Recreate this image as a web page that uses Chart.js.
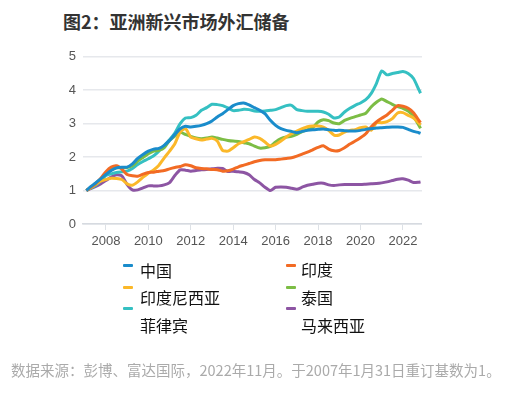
<!DOCTYPE html>
<html>
<head>
<meta charset="utf-8">
<script src="https://cdn.jsdelivr.net/npm/chart.js@4/dist/chart.umd.min.js"></script>
<style>
  body { margin: 0; background: #fff; width: 517px; height: 394px; position: relative; overflow: hidden; }
  #title { position: absolute; left: 63px; top: 8px; font: 700 18px "Noto Sans CJK SC", sans-serif; color: #333; white-space: nowrap; }
  #wrap { position: absolute; left: 50px; top: 42px; width: 372px; height: 212px; }
  #legend { position: absolute; left: 0; top: 0; width: 517px; height: 394px; pointer-events: none; }
  .mk { position: absolute; width: 10px; height: 3px; border-radius: 1px; }
  .lb { position: absolute; font: 16px "Noto Sans CJK SC", sans-serif; color: #111; line-height: 16px; white-space: nowrap; }
  #note { position: absolute; left: 11px; top: 361px; font: 14.5px "Noto Sans CJK SC", sans-serif; color: #aaa; white-space: nowrap; line-height: 18px; }
</style>
</head>
<body>
<div id="title">图2：亚洲新兴市场外汇储备</div>
<div id="wrap"><canvas id="chart"></canvas></div>
<div id="legend"></div>
<div id="note">数据来源：彭博、富达国际，2022年11月。于2007年1月31日重订基数为1。</div>
<script>
// ------------ Dados ------------

// anos (fração do ano), base 31/01/2007 = 1
const anos = [
  2007.08, 2007.25, 2007.5, 2007.75, 2008.0, 2008.25, 2008.5, 2008.75,
  2009.0, 2009.25, 2009.5, 2009.75, 2010.0, 2010.25, 2010.5, 2010.75,
  2011.0, 2011.25, 2011.5, 2011.75, 2012.0, 2012.25, 2012.5, 2012.75,
  2013.0, 2013.25, 2013.5, 2013.75, 2014.0, 2014.25, 2014.5, 2014.75,
  2015.0, 2015.25, 2015.5, 2015.75, 2016.0, 2016.25, 2016.5, 2016.75,
  2017.0, 2017.25, 2017.5, 2017.75, 2018.0, 2018.25, 2018.5, 2018.75,
  2019.0, 2019.25, 2019.5, 2019.75, 2020.0, 2020.25, 2020.5, 2020.75,
  2021.0, 2021.25, 2021.5, 2021.75, 2022.0, 2022.25, 2022.5, 2022.75, 2022.83
];

const china = [
  1.00, 1.10, 1.22, 1.35, 1.48, 1.60, 1.68, 1.70,
  1.70, 1.80, 1.96, 2.08, 2.18, 2.24, 2.26, 2.35,
  2.50, 2.68, 2.85, 2.92, 2.90, 2.92, 2.95, 3.00,
  3.08, 3.20, 3.30, 3.42, 3.54, 3.60, 3.62, 3.56,
  3.48, 3.40, 3.30, 3.10, 2.95, 2.85, 2.80, 2.77,
  2.73, 2.77, 2.80, 2.82, 2.83, 2.84, 2.82, 2.80,
  2.80, 2.79, 2.78, 2.78, 2.80, 2.83, 2.85, 2.87,
  2.88, 2.89, 2.90, 2.90, 2.89, 2.83, 2.77, 2.73, 2.71
];

const india = [
  1.00, 1.08, 1.20, 1.36, 1.56, 1.70, 1.74, 1.64,
  1.48, 1.44, 1.43, 1.49, 1.54, 1.55, 1.58, 1.60,
  1.65, 1.69, 1.72, 1.77, 1.74, 1.68, 1.66, 1.65,
  1.63, 1.62, 1.58, 1.59, 1.64, 1.71, 1.76, 1.81,
  1.86, 1.90, 1.92, 1.92, 1.92, 1.94, 1.96, 1.98,
  2.03, 2.09, 2.15, 2.22, 2.29, 2.34, 2.24, 2.19,
  2.20, 2.28, 2.39, 2.48, 2.58, 2.70, 2.90, 3.05,
  3.16, 3.26, 3.40, 3.54, 3.52, 3.46, 3.33, 3.10, 3.03
];

const indonesia = [
  1.00, 1.08, 1.18, 1.28, 1.33, 1.37, 1.36, 1.33,
  1.20, 1.16, 1.26, 1.40, 1.52, 1.62, 1.76, 1.98,
  2.18, 2.40, 2.75, 2.85, 2.60, 2.55, 2.51, 2.54,
  2.56, 2.48, 2.20, 2.18, 2.28, 2.40, 2.46, 2.53,
  2.60, 2.56, 2.45, 2.33, 2.38, 2.48, 2.60, 2.70,
  2.78, 2.85, 2.91, 2.93, 2.93, 2.90, 2.80, 2.66,
  2.66, 2.75, 2.80, 2.82, 2.88, 2.90, 2.80, 3.03,
  3.03, 3.06, 3.15, 3.32, 3.33, 3.25, 3.17, 3.02, 2.96
];

const tailandia = [
  1.00, 1.07, 1.18, 1.32, 1.50, 1.63, 1.68, 1.68,
  1.69, 1.74, 1.88, 1.99, 2.10, 2.18, 2.20, 2.28,
  2.50, 2.63, 2.74, 2.68, 2.62, 2.57, 2.55, 2.57,
  2.60, 2.57, 2.53, 2.50, 2.48, 2.47, 2.43, 2.40,
  2.33, 2.27, 2.28, 2.32, 2.45, 2.55, 2.60, 2.62,
  2.68, 2.76, 2.82, 2.88, 3.05, 3.12, 3.09, 3.02,
  3.00, 3.10, 3.16, 3.21, 3.26, 3.31, 3.50, 3.64,
  3.74, 3.66, 3.58, 3.51, 3.46, 3.38, 3.22, 2.95, 2.86
];

const filipinas = [
  1.00, 1.06, 1.15, 1.28, 1.45, 1.50, 1.54, 1.56,
  1.58, 1.66, 1.78, 1.87, 1.95, 2.04, 2.18, 2.35,
  2.52, 2.72, 3.00, 3.17, 3.18, 3.25, 3.40, 3.48,
  3.58, 3.57, 3.54, 3.47, 3.39, 3.40, 3.43, 3.42,
  3.38, 3.37, 3.38, 3.40, 3.42, 3.48, 3.54, 3.55,
  3.42, 3.39, 3.37, 3.37, 3.37, 3.35, 3.28, 3.17,
  3.20, 3.35, 3.46, 3.55, 3.62, 3.72, 3.90, 4.20,
  4.58, 4.46, 4.50, 4.53, 4.56, 4.50, 4.35, 4.02, 3.91
];

const malasia = [
  1.00, 1.05, 1.12, 1.20, 1.30, 1.40, 1.47, 1.44,
  1.18, 1.02, 1.02, 1.08, 1.14, 1.14, 1.14, 1.17,
  1.24, 1.45, 1.62, 1.61, 1.58, 1.60, 1.62, 1.63,
  1.65, 1.67, 1.66, 1.57, 1.58, 1.56, 1.54, 1.47,
  1.33, 1.23, 1.10, 1.00, 1.10, 1.11, 1.10, 1.07,
  1.04, 1.10, 1.16, 1.19, 1.22, 1.22, 1.17, 1.15,
  1.17, 1.18, 1.18, 1.18, 1.18, 1.19, 1.20, 1.21,
  1.23, 1.26, 1.30, 1.34, 1.35, 1.31, 1.24, 1.25, 1.26
];

const nomes = ["中国", "印度", "印度尼西亚", "泰国", "菲律宾", "马来西亚"];
const cores = ["#1a8ccb", "#f26b24", "#fbb829", "#7cbd45", "#35c0c2", "#8d55a3"];
const series = [china, india, indonesia, tailandia, filipinas, malasia];
const xTicks = [2008, 2010, 2012, 2014, 2016, 2018, 2020, 2022];
const yTicks = [0, 1, 2, 3, 4, 5];

// ------------ Legenda (HTML) ------------

const legPos = [
  { mx: 123, my: 264, tx: 140, ty: 262 },
  { mx: 286, my: 264, tx: 301, ty: 261 },
  { mx: 123, my: 286, tx: 140, ty: 289 },
  { mx: 286, my: 286, tx: 301, ty: 289 },
  { mx: 123, my: 307, tx: 140, ty: 317 },
  { mx: 286, my: 307, tx: 301, ty: 317 }
];
const leg = document.getElementById("legend");
nomes.forEach((n, i) => {
  const p = legPos[i];
  const mk = document.createElement("div");
  mk.className = "mk";
  mk.style.left = p.mx + "px"; mk.style.top = p.my + "px"; mk.style.background = cores[i];
  const lb = document.createElement("div");
  lb.className = "lb";
  lb.style.left = p.tx + "px"; lb.style.top = p.ty + "px";
  lb.textContent = n;
  leg.appendChild(mk); leg.appendChild(lb);
});

// ------------ Gráfico ------------

new Chart(document.getElementById("chart"), {
  type: "line",
  data: {
    datasets: series.map((s, i) => ({
      label: nomes[i],
      data: s.map((v, j) => ({ x: anos[j], y: v })),
      borderColor: cores[i],
      backgroundColor: cores[i],
      borderWidth: 3,
      pointRadius: 0,
      tension: 0.2
    }))
  },
  options: {
    animation: false,
    responsive: true,
    maintainAspectRatio: false,
    layout: { padding: { top: 7, left: 0, right: 0, bottom: 0 } },
    plugins: { legend: { display: false }, tooltip: { enabled: false } },
    scales: {
      x: {
        type: "linear",
        min: 2006.92,
        max: 2022.9,
        afterBuildTicks: a => { a.ticks = xTicks.map(v => ({ value: v })); },
        afterFit: a => { a.height = 30; },
        grid: { drawOnChartArea: false, drawTicks: true, tickLength: 6, color: "#dde1e6" },
        border: { color: "#d6dae0", width: 1.5 },
        ticks: { color: "#555", font: { family: "Liberation Sans", size: 13 }, padding: 4, maxRotation: 0, callback: v => String(v) }
      },
      y: {
        min: 0,
        max: 5,
        afterBuildTicks: a => { a.ticks = yTicks.map(v => ({ value: v })); },
        afterFit: a => { a.width = 33; },
        grid: { color: "#e6e8ec", lineWidth: 1.5, drawTicks: false },
        border: { display: false },
        ticks: { color: "#555", font: { family: "Liberation Sans", size: 13 }, padding: 7 }
      }
    }
  }
});
</script>
</body>
</html>
